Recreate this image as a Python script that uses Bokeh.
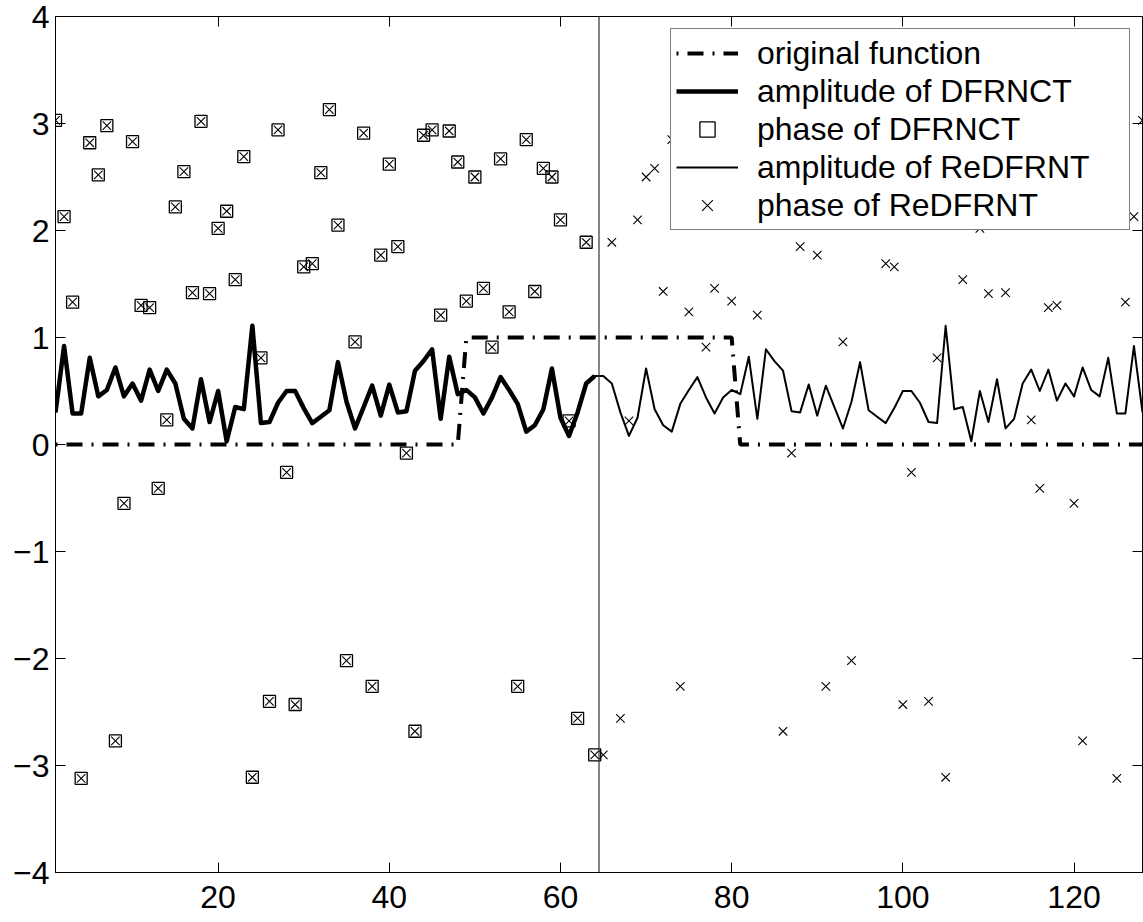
from bokeh.plotting import figure
from bokeh.models import (Range1d, FixedTicker, LinearAxis, Span,
                          CustomJSTickFormatter, Legend, LegendItem)
from bokeh.embed import file_html
from bokeh.resources import INLINE

# ---------------- data ----------------
x_left = list(range(1, 65))
x_all = list(range(1, 129))

phase_dfrnct = [3.03, 2.13, 1.33, -3.12, 2.82, 2.52, 2.98, -2.77, -0.55, 2.83,
                1.30, 1.28, -0.41, 0.23, 2.22, 2.55, 1.42, 3.02, 1.41, 2.02,
                2.18, 1.54, 2.69, -3.11, 0.81, -2.40, 2.94, -0.26, -2.43, 1.66,
                1.69, 2.54, 3.13, 2.05, -2.02, 0.96, 2.91, -2.26, 1.77, 2.62,
                1.85, -0.08, -2.68, 2.89, 2.94, 1.21, 2.93, 2.64, 1.34, 2.50,
                1.46, 0.91, 2.67, 1.24, -2.26, 2.85, 1.43, 2.58, 2.50, 2.10,
                0.22, -2.56, 1.89, -2.90]

phase_redfrnt_right = [-2.90, 1.89, -2.56, 0.22, 2.10, 2.50, 2.58, 1.43, 2.85, -2.26,
                       1.24, 2.67, 0.91, 1.46, 2.50, 1.34, 2.64, 2.93, 1.21, 2.94,
                       2.89, -2.68, -0.08, 1.85, 2.62, 1.77, -2.26, 2.91, 0.96, -2.02,
                       2.05, 3.13, 2.54, 1.69, 1.66, -2.43, -0.26, 2.94, -2.40, 0.81,
                       -3.11, 2.69, 1.54, 2.18, 2.02, 1.41, 3.02, 1.42, 2.55, 2.22,
                       0.23, -0.41, 1.28, 1.30, 2.83, -0.55, -2.77, 2.98, 2.52, 2.82,
                       -3.12, 1.33, 2.13, 3.03]

amp_dfrnct = [0.30, 0.92, 0.29, 0.29, 0.81, 0.45, 0.51, 0.72, 0.45, 0.57,
              0.41, 0.70, 0.50, 0.70, 0.57, 0.24, 0.15, 0.61, 0.21, 0.50,
              0.03, 0.35, 0.33, 1.11, 0.20, 0.21, 0.39, 0.50, 0.50, 0.34,
              0.20, 0.26, 0.32, 0.77, 0.40, 0.15, 0.35, 0.55, 0.27, 0.56,
              0.30, 0.31, 0.69, 0.78, 0.89, 0.24, 0.82, 0.47, 0.51, 0.44,
              0.29, 0.44, 0.63, 0.51, 0.38, 0.12, 0.18, 0.33, 0.71, 0.25,
              0.08, 0.30, 0.57, 0.64]

amp_redfrnt_right = [0.64, 0.57, 0.30, 0.08,
                     0.25, 0.71, 0.33, 0.18, 0.12, 0.38, 0.51, 0.63, 0.44, 0.29,
                     0.44, 0.51, 0.47, 0.82, 0.24, 0.89, 0.78, 0.69, 0.31, 0.30,
                     0.56, 0.27, 0.55, 0.35, 0.15, 0.40, 0.77, 0.32, 0.26, 0.20,
                     0.34, 0.50, 0.50, 0.39, 0.21, 0.20, 1.11, 0.33, 0.35, 0.03,
                     0.50, 0.21, 0.61, 0.15, 0.24, 0.57, 0.70, 0.50, 0.70, 0.41,
                     0.57, 0.45, 0.72, 0.51, 0.45, 0.81, 0.29, 0.29, 0.92, 0.30]

phase_redfrnt = phase_dfrnct + phase_redfrnt_right
amp_redfrnt = amp_dfrnct + amp_redfrnt_right

orig_x = [1, 48, 49, 80, 81, 128]
orig_y = [0, 0, 1, 1, 0, 0]

divider_x = 64.5

x_ticks = [20, 40, 60, 80, 100, 120]
y_ticks = [-4, -3, -2, -1, 0, 1, 2, 3, 4]

labels = ["original function", "amplitude of DFRNCT", "phase of DFRNCT",
          "amplitude of ReDFRNT", "phase of ReDFRNT"]

FONT = "Liberation Sans"

# ---------------- figure ----------------
p = figure(width=1143, height=922,
           x_range=Range1d(1, 128), y_range=Range1d(-4, 4),
           output_backend="svg", toolbar_location=None,
           min_border_left=55, min_border_top=16, min_border_right=1,
           min_border_bottom=50)
p.xgrid.visible = False
p.ygrid.visible = False
p.outline_line_color = "black"
p.outline_line_width = 1
p.background_fill_color = "white"
p.border_fill_color = "white"

minus_fmt = CustomJSTickFormatter(
    code="return (tick < 0 ? '\u2212' : '') + Math.abs(tick).toString();")

for ax, ticks in ((p.xaxis[0], x_ticks), (p.yaxis[0], y_ticks)):
    ax.ticker = FixedTicker(ticks=ticks)
    ax.formatter = minus_fmt
    ax.major_tick_in = 10
    ax.major_tick_out = 0
    ax.minor_tick_line_color = None
    ax.axis_line_color = "black"
    ax.major_tick_line_color = "black"
    ax.major_label_text_font = FONT
    ax.major_label_text_font_size = "32px"
    ax.major_label_text_color = "black"
p.xaxis[0].major_label_standoff = 13
p.yaxis[0].major_label_standoff = 6

blank = CustomJSTickFormatter(code="return '';")
right_ax = LinearAxis(ticker=FixedTicker(ticks=y_ticks), formatter=blank,
                      major_tick_in=10, major_tick_out=0,
                      minor_tick_line_color=None, major_label_standoff=0,
                      axis_line_color="black", major_label_text_font_size="1px")
top_ax = LinearAxis(ticker=FixedTicker(ticks=x_ticks), formatter=blank,
                    major_tick_in=10, major_tick_out=0,
                    minor_tick_line_color=None, major_label_standoff=0,
                    axis_line_color="black", major_label_text_font_size="1px")
p.add_layout(right_ax, "right")
p.add_layout(top_ax, "above")

# ---------------- glyphs ----------------
r_orig = p.line(orig_x, orig_y, line_color="black", line_width=4,
                line_dash="2 9 16 9")
r_ampD = p.line(x_left, amp_dfrnct, line_color="black", line_width=4.5,
                line_join="round")
r_phD = p.scatter(x_left, phase_dfrnct, marker="square", size=12,
                  fill_color=None, line_color="black", line_width=1.3)
r_ampR = p.line(x_all, amp_redfrnt, line_color="black", line_width=2,
                line_join="round")
r_phR = p.scatter(x_all, phase_redfrnt, marker="x", size=12,
                  line_color="black", line_width=1.1)

p.add_layout(Span(location=divider_x, dimension="height",
                  line_color="#333333", line_width=1.2))

legend = Legend(
    items=[LegendItem(label=labels[0], renderers=[r_orig]),
           LegendItem(label=labels[1], renderers=[r_ampD]),
           LegendItem(label=labels[2], renderers=[r_phD]),
           LegendItem(label=labels[3], renderers=[r_ampR]),
           LegendItem(label=labels[4], renderers=[r_phR])],
    location="top_right",
    border_line_color="black", border_line_width=1,
    background_fill_color="white", background_fill_alpha=1,
    label_text_font=FONT, label_text_font_size="32px",
    label_text_color="black",
    glyph_width=62, glyph_height=38, label_height=38, label_width=367,
    label_standoff=19, spacing=0, padding=5, margin=12)
p.add_layout(legend)

open("out.html", "w").write(file_html(p, INLINE))
